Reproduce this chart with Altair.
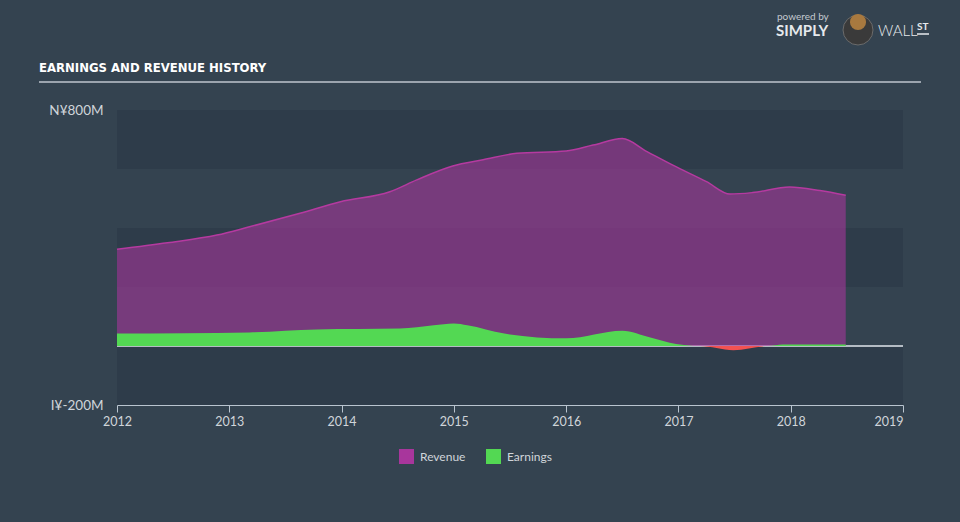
import altair as alt
import pandas as pd

# ---- data ----
rev_year = [2012.0, 2012.45, 2012.89, 2013.18, 2013.63, 2013.99, 2014.43, 2014.67, 2014.99,
            2015.26, 2015.56, 2016.0, 2016.24, 2016.5, 2016.72, 2016.95, 2017.25, 2017.46,
            2017.66, 2017.99, 2018.26, 2018.49]
revenue = [328, 350, 376, 404, 450, 489, 523, 563, 610, 631, 653, 661, 681, 703, 659, 613,
           557, 515, 520, 539, 527, 511]

earn_year = [2012.0, 2012.6, 2013.18, 2013.78, 2014.52, 2014.82, 2015.0, 2015.12, 2015.45,
             2016.0, 2016.5, 2016.75, 2016.98, 2017.19, 2017.49, 2017.8, 2017.93, 2018.49]
earnings = [42, 43, 46, 56, 59, 70, 76, 70, 42, 26, 52, 29, 7, 0, -14, 0, 5, 5]

x_ticks = [2012, 2013, 2014, 2015, 2016, 2017, 2018, 2019]
y_ticks = [-200, 800]
band_lo = [600, 200, -200]
band_hi = [800, 400, 0]
series_names = ["Revenue", "Earnings"]

BG = "#344350"
BAND = "#2e3c4a"
PURPLE = "#a8369c"
PURPLE_LINE = "#b53aa0"
GREEN = "#53d853"
RED = "#f25252"
TXT = "#d0d5da"

rev_df = pd.DataFrame({"year": rev_year, "revenue": revenue, "series": "Revenue"})
earn_df = pd.DataFrame({"year": earn_year, "earnings": earnings, "series": "Earnings"})
band_df = pd.DataFrame({"lo": band_lo, "hi": band_hi, "x0": x_ticks[0], "x1": x_ticks[-1]})
zero_df = pd.DataFrame({"x0": [x_ticks[0]], "x1": [x_ticks[-1]], "y": [0]})
one = pd.DataFrame({"a": [0]})

xscale = alt.Scale(domain=[x_ticks[0], x_ticks[-1]], nice=False, zero=False)
yscale = alt.Scale(domain=[y_ticks[0], y_ticks[-1]], nice=False)
color_scale = alt.Scale(domain=series_names, range=[PURPLE, GREEN])

xaxis = alt.Axis(values=x_ticks, format="d", grid=False,
                 domainColor="#b9c4cf", tickColor="#b9c4cf", tickSize=7,
                 domainWidth=1, labelColor=TXT, labelFontSize=12.5,
                 labelFont="Lato", labelPadding=3,
                 labelAlign=alt.expr("datum.value >= 2019 ? 'right' : 'center'"))
yaxis = alt.Axis(values=y_ticks, grid=False, domain=False, ticks=False,
                 labelColor=TXT, labelFontSize=13.5, labelFont="Lato",
                 labelPadding=14,
                 labelExpr="datum.value == 800 ? 'N¥800M' : 'I¥-200M'")


def X(field):
    return alt.X(field, scale=xscale, axis=xaxis, title=None)


def Y(field):
    return alt.Y(field, scale=yscale, axis=yaxis, title=None)


bands = alt.Chart(band_df).mark_rect(color=BAND).encode(
    x=X("x0:Q"), x2="x1:Q", y=Y("lo:Q"), y2="hi:Q",
)

zero_line = alt.Chart(zero_df).mark_rule(color="#b4bcc4", strokeWidth=2).encode(
    x=X("x0:Q"), x2="x1:Q", y=Y("y:Q"),
)

rev_area = alt.Chart(rev_df).mark_area(
    interpolate="monotone", fillOpacity=0.58
).encode(
    x=X("year:Q"),
    y=Y("revenue:Q"),
    color=alt.Color("series:N", scale=color_scale, sort=series_names,
                    legend=alt.Legend(title=None, orient="none", direction="horizontal",
                                      legendX=282, legendY=339, symbolType="square",
                                      symbolSize=225, symbolStrokeWidth=0,
                                      symbolOpacity=1,
                                      labelColor=TXT, labelFontSize=12, labelFont="Lato",
                                      columnPadding=20, labelOffset=6)),
)

rev_line = alt.Chart(rev_df).mark_line(
    interpolate="monotone", color=PURPLE_LINE, strokeWidth=1.5
).encode(x=X("year:Q"), y=Y("revenue:Q"))

earn_pos = alt.Chart(earn_df).transform_calculate(
    pos="max(datum.earnings, 0)"
).mark_area(interpolate="monotone", fillOpacity=1).encode(
    x=X("year:Q"),
    y=Y("pos:Q"),
    y2=alt.datum(0),
    color=alt.Color("series:N", scale=color_scale, sort=series_names),
)

earn_neg = alt.Chart(earn_df).transform_calculate(
    neg="min(datum.earnings, 0)"
).mark_area(interpolate="monotone", color=RED).encode(
    x=X("year:Q"),
    y=Y("neg:Q"),
    y2=alt.datum(0),
)

# ---- title and branding (outside the plot area) ----
title = alt.Chart(one).mark_text(
    text="EARNINGS AND REVENUE HISTORY", align="left", baseline="middle",
    font="DejaVu Sans Condensed", fontWeight="bold", fontSize=13, color="#ffffff"
).encode(x=alt.value(-78), y=alt.value(-42))

title_rule = alt.Chart(one).mark_rule(color="#9ba4ae", strokeWidth=2).encode(
    x=alt.value(-78), x2=alt.value(804), y=alt.value(-28)
)

powered = alt.Chart(one).mark_text(
    text="powered by", align="left", baseline="middle", font="Lato",
    fontSize=10, color="#c3c9cf"
).encode(x=alt.value(660), y=alt.value(-93))

simply = alt.Chart(one).mark_text(
    text="SIMPLY", align="left", baseline="middle", font="Lato", fontWeight="bold",
    fontSize=15, color="#e6e9ec"
).encode(x=alt.value(659), y=alt.value(-79))

logo_ring = alt.Chart(one).mark_point(
    shape="circle", filled=True, size=900, color="#3a3a3a", opacity=1,
    stroke="#6b6b6b", strokeWidth=1
).encode(x=alt.value(741), y=alt.value(-80))

logo_head = alt.Chart(one).mark_point(
    shape="circle", filled=True, size=260, color="#a8793f", opacity=1
).encode(x=alt.value(741), y=alt.value(-88))

wall = alt.Chart(one).mark_text(
    text="WALL", align="left", baseline="middle", font="Lato", fontWeight=300,
    fontSize=15, color="#e6e9ec"
).encode(x=alt.value(761), y=alt.value(-79))

st = alt.Chart(one).mark_text(
    text="ST", align="left", baseline="middle", font="Lato", fontWeight="bold",
    fontSize=10, color="#e6e9ec"
).encode(x=alt.value(800), y=alt.value(-83))

st_rule = alt.Chart(one).mark_rule(color="#e6e9ec", strokeWidth=1.5).encode(
    x=alt.value(800), x2=alt.value(812), y=alt.value(-76)
)

chart = alt.layer(
    bands, zero_line, rev_area, rev_line, earn_pos, earn_neg,
    title, title_rule, powered, simply, logo_ring, logo_head, wall, st, st_rule
).properties(
    width=786, height=295,
    autosize=alt.AutoSizeParams(type="none"),
    padding={"left": 117, "top": 110, "right": 57, "bottom": 117},
    background=BG,
).configure_view(stroke=None)

chart.save("out.html", embed_options={"renderer": "svg", "actions": False})
